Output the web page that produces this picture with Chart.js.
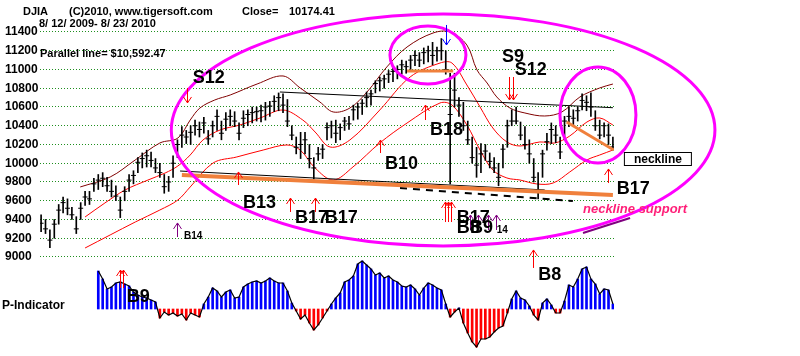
<!DOCTYPE html>
<html>
<head>
<meta charset="utf-8">
<script src="https://cdn.jsdelivr.net/npm/chart.js@4.4.0/dist/chart.umd.min.js"></script>
<style>
  html, body { margin: 0; background: #fff; }
  #wrap { width: 800px; height: 356px; position: relative; }
</style>
</head>
<body>
<div id="wrap"><canvas id="djia" width="800" height="356"></canvas></div>
<script>
// daily-ish DJIA bars, 8/12/2009 - 8/23/2010 (index = bar number)
const lows = [9270,9250,9100,9200,9350,9470,9450,9400,9250,9400,9550,9560,9700,9720,9750,9700,9640,9600,9420,9600,
  9700,9780,9900,9950,9960,9960,9900,9850,9680,9700,9850,10060,10170,10210,10200,10300,10280,10320,10200,10280,
  10350,10250,10350,10400,10390,10250,10380,10400,10430,10450,10440,10460,10500,10550,10560,10540,10390,10250,10100,10050,
  10100,9950,9830,10030,10050,10250,10270,10220,10250,10350,10360,10460,10470,10520,10600,10620,10750,10770,10800,10860,
  10870,10900,10950,10960,11000,11040,11030,11060,11080,11050,11090,11100,10950,9780,10600,10500,10350,10200,10000,9850,
  9900,10030,9950,9900,9760,9950,10170,10400,10420,10250,10150,10000,9800,9620,9850,10140,10210,10220,10050,10250,
  10390,10400,10450,10570,10560,10500,10350,10260,10280,10200,10140];
const highs = [9450,9400,9290,9400,9560,9640,9620,9530,9430,9580,9700,9700,9840,9880,9900,9850,9820,9760,9640,9750,
  9880,9920,10060,10110,10140,10120,10050,10000,9880,9860,10080,10250,10390,10350,10400,10460,10440,10490,10350,10450,
  10570,10450,10540,10570,10550,10430,10560,10570,10600,10600,10620,10650,10660,10720,10750,10740,10680,10400,10280,10330,
  10330,10200,10060,10170,10200,10430,10450,10460,10420,10490,10500,10620,10640,10680,10760,10780,10880,10920,10940,10990,
  11020,11040,11100,11090,11150,11200,11180,11230,11250,11290,11240,11330,11200,10960,10960,10700,10650,10450,10280,10170,
  10210,10200,10110,10060,10000,10200,10460,10570,10600,10440,10390,10250,10050,9900,10140,10320,10430,10400,10280,10500,
  10600,10570,10600,10740,10720,10750,10560,10460,10430,10420,10280];
const closes = [9360,9300,9180,9350,9500,9580,9520,9450,9300,9520,9640,9620,9780,9820,9840,9760,9700,9650,9500,9700,
  9820,9870,10010,10050,10080,10030,9950,9900,9750,9800,10000,10200,10300,10280,10330,10400,10360,10430,10260,10400,
  10500,10320,10470,10500,10450,10320,10480,10520,10540,10550,10560,10600,10610,10660,10700,10620,10450,10300,10170,10200,
  10250,10050,9950,10100,10150,10380,10400,10320,10380,10450,10420,10570,10600,10640,10700,10740,10850,10880,10900,10950,
  10980,11000,11050,11030,11100,11150,11100,11180,11200,11150,11200,11200,11000,10520,10780,10620,10400,10250,10060,9980,
  10100,10130,10020,9950,9850,10150,10400,10450,10450,10300,10200,10100,9850,9700,10100,10230,10360,10300,10120,10450,
  10500,10480,10560,10670,10650,10600,10400,10300,10400,10300,10174.41];

// P-Indicator, first value at bar 13
const pStart = 13;
const pIndicator = [38,30,20,22,26,27,25,23,17,14,12,11,9,7,-9,-3,-6,-4,-7,-5,
  -11,-4,-6,-8,5,12,21,18,12,17,19,11,12,22,25,27,28,26,28,31,
  28,26,26,18,6,-2,-10,-6,-14,-21,-16,-9,-2,5,11,16,27,29,33,45,
  48,44,40,34,36,31,33,29,27,23,22,24,20,14,21,26,24,21,19,5,
  -8,-3,1,-14,-24,-33,-38,-30,-30,-28,-23,-19,-17,-4,10,18,11,9,3,-6,
  -11,6,10,4,-4,-4,8,24,22,30,40,42,30,25,15,20,19,5];

// band lines [bar, price]
const upperBand = [[8.9,9747],[15.7,9853],[21.4,10035],[27,10216],[31.1,10269],[33.9,10461],[36.1,10589],[39.5,10675],
  [43,10728],[49.1,10845],[55,10931],[58.9,10803],[63.4,10653],[66.4,10547],[70.2,10589],[74.1,10760],[78.6,11027],
  [83.2,11240],[89.1,11389],[93,11400],[96.8,11261],[99.1,10995],[101.4,10856],[103.6,10707],[106.6,10589],[110,10536],
  [114.5,10504],[118.4,10547],[122.5,10707],[127,10803],[130,10845]];
const midBand = [[10,9427],[14.5,9576],[19.1,9715],[24.3,9821],[28.2,9896],[31.1,9971],[33.9,10088],[36.8,10248],
  [40.7,10355],[45.2,10408],[49.8,10483],[55,10568],[59.5,10461],[62.3,10333],[65.7,10173],[70.2,10248],[77,10568],
  [83.9,10920],[90.7,11069],[93.4,11069],[96.8,10835],[99.8,10600],[102.7,10376],[105.9,10227],[108.9,10184],
  [113.4,10227],[116.8,10216],[120.2,10291],[124.1,10440],[127,10483],[130,10408]];
const lowerBand = [[10,9096],[15.7,9235],[21.4,9373],[27,9501],[31.1,9608],[33.9,9747],[39.1,10003],[44.5,10067],
  [50.5,10141],[55.9,10195],[58.9,10141],[62.3,9949],[66.4,9821],[70.9,9960],[77,10216],[83.2,10429],[90.7,10643],
  [93.4,10621],[96.8,10408],[99.8,10141],[102.7,9928],[105.9,9843],[108.9,9821],[112.7,9779],[116.4,9789],
  [120.2,9907],[124.1,10035],[127,10088],[130,10141]];

// drawn trend lines [bar, price]
const parallelLine = [[54.3,10760],[130,10592.47]];
const necklineTrend = [[32,9875],[130,9661]];
const necklineThin = [[31.6,9917],[114.5,9715]];
const supportDashed = [[81.6,9736],[120.9,9597]];
const topShelf = [[83.2,10984],[93.7,10984]];
const rightSlide = [[119.5,10440],[130.2,10141]];

const priceTicks = [9000,9200,9400,9600,9800,10000,10200,10400,10600,10800,11000,11200,11400];

// signals: [text, bar, price]
const signalLabels = [['S12',34.5,10856],['B13',45.9,9523],['B17',57.7,9363],['B17',64.5,9363],['B10',78.2,9939],
  ['B18',88.4,10301],['S9',104.8,11080],['S12',107.7,10941],['B17',94.5,9363],['B8',94.5,9256],['B9',97.5,9256],
  ['B17',130.9,9672],['B8',113,8755],['B9',19.5,8520]];
const smallLabels = [['B14',32.5,9192],['14',103.6,9256]];
// arrows: [bar, tail price, tip price, colour]
const arrows = [[33.2,10803,10643,'#ff0000'],[30.9,9213,9363,'#800080'],[44.8,9768,9907,'#ff0000'],
  [56.6,9480,9629,'#ff0000'],[62.3,9480,9629,'#ff0000'],[77,10109,10248,'#ff0000'],[87.3,10461,10621,'#ff0000'],
  [106.4,10920,10675,'#ff0000'],[107.2,10920,10675,'#ff0000'],[92,11475,11261,'#0000ff'],
  [91.9,9373,9587,'#ff0000'],[92.6,9373,9587,'#ff0000'],[93.3,9373,9587,'#ff0000'],
  [97.5,9288,9448,'#800080'],[99.3,9288,9448,'#800080'],[101.5,9288,9448,'#800080'],[103.5,9288,9448,'#800080'],
  [128.9,9789,9939,'#ff0000'],[111.8,8883,9075,'#ff0000'],[18,8669,8861,'#ff0000'],[18.7,8669,8861,'#ff0000']];
// ellipses: [centre bar, centre price, bar radius, price radius]
const ellipses = [[91.4,10355,61.8,1237],[87.95,11155,8.64,309],[126.6,10515,8.64,512]];

const FONT = "'Liberation Sans', Arial, sans-serif";
const pts = a => a.map(p => ({x: p[0], y: p[1]}));

const annotations = {
  id: 'annotations',
  afterDatasetsDraw(chart) {
    const {ctx} = chart;
    const x = chart.scales.x, y = chart.scales.y;
    const px = v => x.getPixelForValue(v), py = v => y.getPixelForValue(v);
    ctx.save();

    ctx.strokeStyle = '#ff00ff';
    ctx.lineWidth = 3;
    ellipses.forEach(e => {
      ctx.beginPath();
      ctx.ellipse(px(e[0]), py(e[1]), px(e[0] + e[2]) - px(e[0]), py(e[1]) - py(e[1] + e[3]), 0, 0, Math.PI * 2);
      ctx.stroke();
    });
    ctx.strokeStyle = '#800080';
    ctx.lineWidth = 2;
    ctx.beginPath();
    ctx.moveTo(px(123.2), py(9256));
    ctx.lineTo(px(133.9), py(9416));
    ctx.stroke();

    ctx.lineWidth = 1;
    arrows.forEach(a => {
      const ax = Math.round(px(a[0])) + 0.5, t = py(a[1]), h = py(a[2]);
      const d = h < t ? 1 : -1;
      ctx.strokeStyle = a[3];
      ctx.beginPath();
      ctx.moveTo(ax, t); ctx.lineTo(ax, h);
      ctx.moveTo(ax - 4, h + 6 * d); ctx.lineTo(ax, h); ctx.lineTo(ax + 4, h + 6 * d);
      ctx.stroke();
    });

    ctx.fillStyle = '#000';
    ctx.textBaseline = 'alphabetic';
    ctx.font = 'bold 18px ' + FONT;
    signalLabels.forEach(s => ctx.fillText(s[0], px(s[1]), py(s[2])));
    ctx.font = 'bold 10px ' + FONT;
    smallLabels.forEach(s => ctx.fillText(s[0], px(s[1]), py(s[2])));

    // neckline box
    const bx = px(132.5), by = py(10120);
    ctx.fillStyle = '#fff';
    ctx.fillRect(bx, by, 67, 13);
    ctx.strokeStyle = '#000';
    ctx.strokeRect(bx + 0.5, by + 0.5, 67, 13);
    ctx.fillStyle = '#000';
    ctx.font = 'bold 12px ' + FONT;
    ctx.textAlign = 'center';
    ctx.fillText('neckline', bx + 34, by + 11);
    ctx.textAlign = 'left';
    ctx.fillStyle = '#ff1f78';
    ctx.font = 'italic bold 13px ' + FONT;
    ctx.fillText('neckline support', px(123.2), py(9469));

    // header text
    ctx.fillStyle = '#000';
    ctx.font = 'bold 11px ' + FONT;
    ctx.fillText('DJIA', 23, 15);
    ctx.fillText('(C)2010, www.tigersoft.com', 69, 15);
    ctx.fillText('Close=', 242, 15);
    ctx.fillText('10174.41', 289, 15);
    ctx.fillText('8/ 12/ 2009- 8/ 23/ 2010', 39, 27);
    ctx.fillText('Parallel line= $10,592.47', 40, 57);
    ctx.font = 'bold 12px ' + FONT;
    ctx.fillText('P-Indicator', 2, 309);
    ctx.restore();
  }
};

const lineSet = (data, color, width, extra) => Object.assign({
  type: 'line', data: pts(data), yAxisID: 'y', borderColor: color, borderWidth: width,
  pointRadius: 0, fill: false
}, extra || {});

new Chart(document.getElementById('djia'), {
  type: 'bar',
  data: {
    datasets: [
      lineSet(topShelf, '#f0803c', 3, {order: 1}),
      lineSet(rightSlide, '#f0803c', 3, {order: 1}),
      lineSet(necklineTrend, '#f0803c', 4, {order: 2}),
      lineSet(necklineThin, '#000', 1, {order: 3}),
      lineSet(supportDashed, '#000', 2, {order: 3, borderDash: [7, 6]}),
      lineSet(parallelLine, '#000', 1, {order: 3}),
      {
        type: 'line', data: closes.map((c, i) => ({x: i, y: c})), yAxisID: 'y', showLine: false,
        pointStyle: 'line', pointRadius: 2.5, pointBorderColor: '#000', pointBorderWidth: 1, order: 4
      },
      {
        type: 'bar', data: lows.map((lo, i) => ({x: i, y: [lo, highs[i]]})), yAxisID: 'y',
        backgroundColor: '#000', barThickness: 1, grouped: false, order: 5
      },
      lineSet(upperBand, '#800000', 1, {order: 6, tension: 0.35}),
      lineSet(midBand, '#ff0000', 1, {order: 6, tension: 0.35}),
      lineSet(lowerBand, '#ff0000', 1, {order: 6, tension: 0.35}),
      {
        type: 'line', data: pIndicator.map((v, k) => ({x: pStart + k, y: v})), yAxisID: 'yP',
        borderColor: '#000', borderWidth: 1.2, pointRadius: 0, fill: false, order: 7
      },
      {
        type: 'bar', data: pIndicator.map((v, k) => ({x: pStart + k, y: v})), yAxisID: 'yP',
        backgroundColor: c => (c.raw && c.raw.y < 0 ? '#ff0000' : '#0000ff'),
        barThickness: 2, grouped: false, order: 8
      }
    ]
  },
  options: {
    responsive: false,
    animation: false,
    devicePixelRatio: 1,
    layout: {padding: {left: 5, top: 20, right: 186, bottom: 8}},
    plugins: {legend: {display: false}, tooltip: {enabled: false}},
    scales: {
      x: {type: 'linear', min: -0.25, max: 130.25, offset: false, grid: {offset: false}, display: false},
      y: {
        position: 'left', min: 8029.3, max: 11528,
        afterBuildTicks: s => { s.ticks = priceTicks.map(v => ({value: v})); },
        afterFit: s => { s.width = 35; },
        grid: {color: '#1f8f1f', lineWidth: 1, drawTicks: false},
        border: {display: false, dash: [1, 2]},
        ticks: {
          font: {family: FONT, size: 12, weight: 'bold'}, color: '#000', crossAlign: 'far', padding: 0,
          callback: v => String(v)
        }
      },
      yP: {display: false, min: -39, max: 289}
    }
  },
  plugins: [annotations]
});
</script>
</body>
</html>
